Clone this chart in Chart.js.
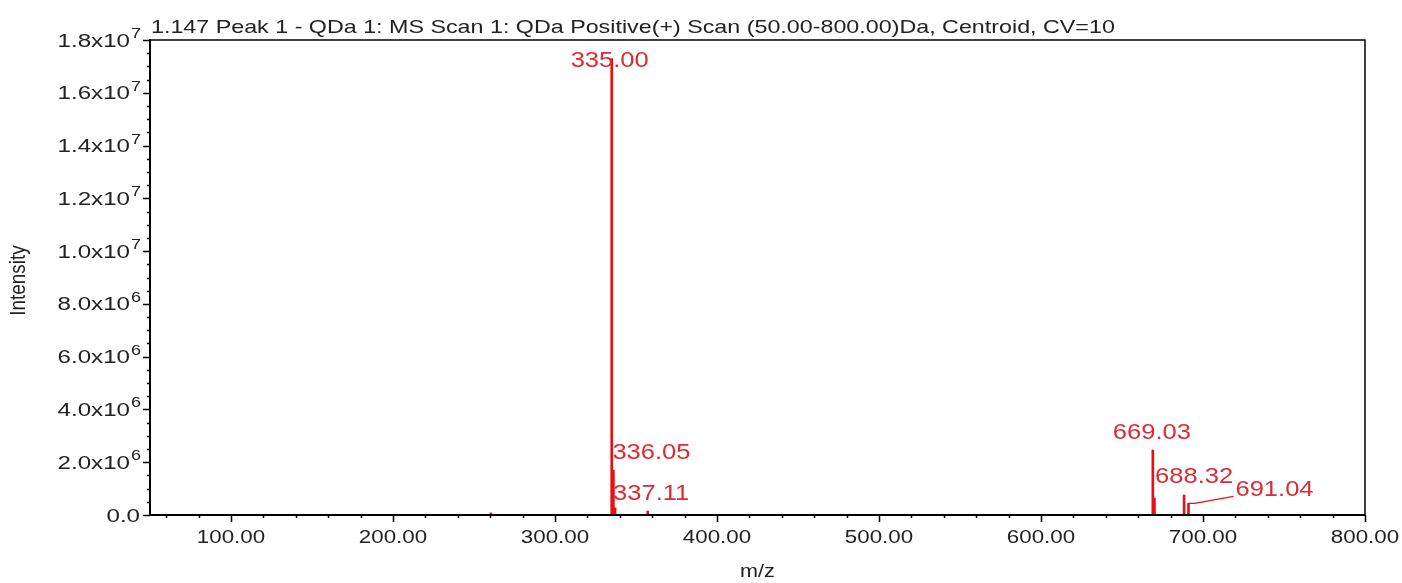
<!DOCTYPE html>
<html>
<head>
<meta charset="utf-8">
<script src="https://cdn.jsdelivr.net/npm/chart.js@4.4.1/dist/chart.umd.min.js"></script>
<style>
  body { margin: 0; background: #fff; }
  #wrap { width: 1402px; height: 583px; }
</style>
</head>
<body>
<div id="wrap"><canvas id="msChart" width="1402" height="583"></canvas></div>
<script>
// peak list
const mz = [260.4, 335.00, 336.05, 337.11, 357.2, 669.03, 670.03, 688.32, 691.04];
const intensity = [0.08e6, 17.3e6, 1.7e6, 0.27e6, 0.15e6, 2.46e6, 0.64e6, 0.76e6, 0.44e6];
const peakLabels = [null, '335.00', '336.05', '337.11', null, '669.03', null, '688.32', '691.04'];

// axis ticks
const xMajorTicks = [100, 200, 300, 400, 500, 600, 700, 800];
const xTickLabels = ['100.00', '200.00', '300.00', '400.00', '500.00', '600.00', '700.00', '800.00'];
const yMajorTicks = [0, 2e6, 4e6, 6e6, 8e6, 10e6, 12e6, 14e6, 16e6, 18e6];
const yTickMantissa = ['0.0', '2.0', '4.0', '6.0', '8.0', '1.0', '1.2', '1.4', '1.6', '1.8'];
const yTickExponent = ['', '6', '6', '6', '6', '7', '7', '7', '7', '7'];

const titleText = '1.147 Peak 1 - QDa 1: MS Scan 1: QDa Positive(+) Scan (50.00-800.00)Da, Centroid, CV=10';

// how each peak label sits relative to its peak top (pixels)
const labelPlace = {
  '335.00': { align: 'center', dx: -2, dy: -11 },
  '336.05': { align: 'left', dx: -1, dy: -11 },
  '337.11': { align: 'left', dx: -2, dy: -8 },
  '669.03': { align: 'center', dx: -1, dy: -11 },
  '688.32': { align: 'center', dx: 10, dy: -12 },
  '691.04': { align: 'left', dx: 47, dy: -7, leader: true }
};

const RED = '#e81010';
const LABEL_RED = '#dc2b35';
const FONT = '"Liberation Sans", Arial, sans-serif';

function stretchedText(ctx, text, x, y, align, sx) {
  ctx.save();
  ctx.translate(x, y);
  ctx.scale(sx, 1);
  ctx.textAlign = align;
  ctx.fillText(text, 0, 0);
  ctx.restore();
}

const spectrumDecor = {
  id: 'spectrumDecor',
  afterDraw(chart) {
    const ctx = chart.ctx;
    const area = chart.chartArea;
    const xs = chart.scales.x;
    const ys = chart.scales.y;

    ctx.save();
    ctx.textBaseline = 'alphabetic';

    // frame
    ctx.strokeStyle = '#000';
    ctx.lineWidth = 1.5;
    ctx.beginPath();
    ctx.moveTo(area.left, area.top);
    ctx.lineTo(area.right, area.top);
    ctx.lineTo(area.right, area.bottom);
    ctx.stroke();
    ctx.lineWidth = 2;
    ctx.beginPath();
    ctx.moveTo(area.left, area.top - 1);
    ctx.lineTo(area.left, area.bottom);
    ctx.lineTo(area.right, area.bottom);
    ctx.stroke();

    // x ticks
    ctx.lineWidth = 1.5;
    for (let v = 60; v <= 800; v += 20) {
      const px = Math.round(xs.getPixelForValue(v)) + 0.5;
      const major = xMajorTicks.includes(v);
      ctx.beginPath();
      ctx.moveTo(px, area.bottom);
      ctx.lineTo(px, area.bottom + (major ? 7 : 3));
      ctx.stroke();
    }
    // y ticks
    for (let v = 0; v <= 18e6; v += 5e5) {
      const py = Math.round(ys.getPixelForValue(v)) + 0.5;
      const major = yMajorTicks.includes(v);
      ctx.beginPath();
      ctx.moveTo(area.left, py);
      ctx.lineTo(area.left - (major ? 7 : 3), py);
      ctx.stroke();
    }

    // x tick labels
    ctx.fillStyle = '#222';
    ctx.font = '18px ' + FONT;
    xMajorTicks.forEach((v, i) => {
      stretchedText(ctx, xTickLabels[i], xs.getPixelForValue(v), area.bottom + 28, 'center', 1.24);
    });

    // y tick labels with superscript exponent
    yMajorTicks.forEach((v, i) => {
      const py = ys.getPixelForValue(v);
      const rightEdge = area.left - 9;
      let supW = 0;
      if (yTickExponent[i]) {
        ctx.font = '15px ' + FONT;
        supW = ctx.measureText(yTickExponent[i]).width * 1.2;
        stretchedText(ctx, yTickExponent[i], rightEdge, py - 2, 'right', 1.2);
      }
      ctx.font = '18px ' + FONT;
      const main = yTickExponent[i] ? yTickMantissa[i] + 'x10' : yTickMantissa[i];
      stretchedText(ctx, main, rightEdge - supW - 1, py + 6.5, 'right', 1.34);
    });

    // title
    ctx.font = '19px ' + FONT;
    stretchedText(ctx, titleText, area.left + 1, area.top - 7, 'left', 1.225);

    // axis titles
    ctx.font = '18px ' + FONT;
    stretchedText(ctx, 'm/z', (area.left + area.right) / 2, 577, 'center', 1.2);
    ctx.save();
    ctx.translate(25, (area.top + area.bottom) / 2 + 3);
    ctx.rotate(-Math.PI / 2);
    ctx.scale(1.05, 1.2);
    ctx.textAlign = 'center';
    ctx.fillText('Intensity', 0, 0);
    ctx.restore();

    // peak labels
    ctx.font = '22px ' + FONT;
    ctx.fillStyle = LABEL_RED;
    ctx.strokeStyle = RED;
    ctx.lineWidth = 1.2;
    mz.forEach((m, i) => {
      const text = peakLabels[i];
      if (!text) return;
      const place = labelPlace[text];
      const px = xs.getPixelForValue(m);
      const py = ys.getPixelForValue(intensity[i]);
      const baseline = Math.max(py + place.dy, area.top + 27);
      const lx = px + place.dx;
      stretchedText(ctx, text, lx, baseline, place.align, 1.16);
      if (place.leader) {
        ctx.beginPath();
        ctx.moveTo(px, py);
        ctx.lineTo(px + 6, py);
        ctx.lineTo(lx - 2, baseline);
        ctx.stroke();
      }
    });

    ctx.restore();
  }
};

new Chart(document.getElementById('msChart'), {
  type: 'bar',
  data: {
    datasets: [{
      data: mz.map((m, i) => ({ x: m, y: intensity[i] })),
      backgroundColor: RED,
      borderWidth: 0,
      barThickness: 2
    }]
  },
  options: {
    responsive: false,
    animation: false,
    layout: { padding: { left: 150, right: 37, top: 40, bottom: 68 } },
    plugins: { legend: { display: false }, tooltip: { enabled: false } },
    scales: {
      x: { type: 'linear', min: 50, max: 800, offset: false, display: false },
      y: { type: 'linear', min: 0, max: 18e6, display: false }
    }
  },
  plugins: [spectrumDecor]
});
</script>
</body>
</html>
